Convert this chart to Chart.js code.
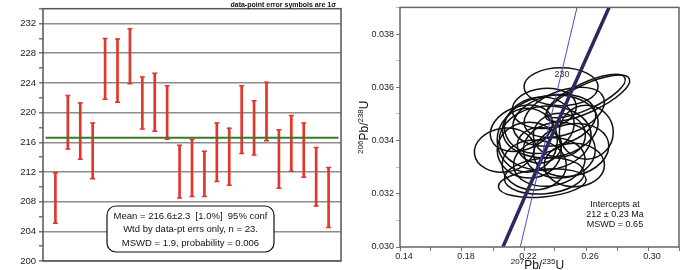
<!DOCTYPE html>
<html lang="en">
<head>
<meta charset="UTF-8">
<title>Weighted mean age and concordia</title>
<script src="https://cdn.jsdelivr.net/npm/chart.js"></script>
<style>
  body { margin: 0; background: #fff; }
  #wrap { position: relative; width: 700px; height: 270px; }
  canvas { position: absolute; top: 0; }
</style>
</head>
<body>
<div id="wrap">
  <canvas id="meanChart" width="350" height="270" style="left:0"></canvas>
  <canvas id="concChart" width="350" height="270" style="left:350px"></canvas>
</div>
<script>
// ---- weighted mean plot (ages in Ma, 1 sigma boxes)
const spotNo = [1, 2, 3, 4, 5, 6, 7, 8, 9, 10, 11, 12, 13, 14, 15, 16, 17, 18, 19, 20, 21, 22, 23];
const ageLow = [205.1, 215.1, 213.7, 211.1, 221.8, 221.4, 223.9, 217.8, 217.5, 216.4, 208.5, 208.7,
                208.7, 210.7, 210.2, 214.5, 214.3, 216.2, 209.8, 212.1, 211.3, 207.4, 204.5];
const ageHigh = [211.9, 222.3, 221.3, 218.6, 230.0, 229.9, 231.3, 224.8, 225.3, 223.6, 215.6, 216.4,
                 214.8, 218.6, 217.9, 223.6, 221.6, 224.1, 217.7, 219.6, 218.6, 215.3, 212.6];
const meanAge = 216.6;
const meanText = ['Mean = 216.6\u00b12.3  [1.0%]  95% conf', 'Wtd by data-pt errs only, n = 23.', 'MSWD = 1.9, probability = 0.006'];

// ---- concordia plot
const concX = [0.2064, 0.2214, 0.2365, 0.2518, 0.2672, 0.2749];   // 207Pb/235U
const concY = [0.030, 0.032, 0.034, 0.036, 0.038, 0.039];          // 206Pb/238U
const lineX = [0.2176, 0.2542];
const lineY = [0.030, 0.039];
const ageLabel = ['230'];
const ageLabelX = [0.2542];
const ageLabelY = [0.03632];
// error ellipses: centre, half-widths (data units), tilt (deg)
const ellX = [0.2439, 0.2610, 0.2600, 0.2073, 0.2602, 0.2370, 0.2337, 0.2331, 0.2299, 0.2234, 0.2396, 0.2428,
              0.2221, 0.2363, 0.2505, 0.2266, 0.2318, 0.2183, 0.2460, 0.2331, 0.2299, 0.2428, 0.2525];
const ellY = [0.03602, 0.03559, 0.03567, 0.03364, 0.03431, 0.03453, 0.03409, 0.03267, 0.03457, 0.03364, 0.03476, 0.03364,
              0.03401, 0.03319, 0.03364, 0.03308, 0.03240, 0.03446, 0.03506, 0.03521, 0.03382, 0.03420, 0.03308];
const ellA = [0.0239, 0.0297, 0.0277, 0.0194, 0.0174, 0.0310, 0.0297, 0.0258, 0.0226, 0.0207, 0.0271, 0.0232,
              0.0194, 0.0232, 0.0245, 0.0207, 0.0284, 0.0207, 0.0271, 0.0207, 0.0142, 0.0168, 0.0194];
const ellB = [0.00071, 0.00052, 0.00049, 0.00082, 0.00101, 0.00116, 0.00120, 0.00067, 0.00105, 0.00105, 0.00094, 0.00105,
              0.00120, 0.00090, 0.00097, 0.00094, 0.00052, 0.00082, 0.00082, 0.00075, 0.00067, 0.00082, 0.00082];
const ellTilt = [0, -25, -25, -8, 0, -8, -5, -5, -10, 0, -12, 0, 0, -8, -12, 0, -5, -20, -20, -5, 0, 0, 0];
const interceptText = ['Intercepts at', '212 \u00b1 0.23 Ma', 'MSWD = 0.65'];

const font = '"Liberation Sans", Arial, sans-serif';
const red = '#e2352b';

// frame, note and stats box for the left panel
const meanDecor = {
  id: 'meanDecor',
  afterDraw(chart) {
    const { ctx, chartArea: a } = chart;
    ctx.save();
    ctx.strokeStyle = '#555';
    ctx.lineWidth = 1.5;
    ctx.strokeRect(a.left, a.top, a.right - a.left, a.bottom - a.top);

    ctx.fillStyle = '#111';
    ctx.font = 'bold 7px ' + font;
    ctx.textAlign = 'right';
    ctx.textBaseline = 'alphabetic';
    ctx.fillText('data-point error symbols are 1\u03c3', a.right - 5, a.top - 1.5);

    ctx.beginPath();
    ctx.roundRect(107, 206, 167, 46, 9);
    ctx.fillStyle = '#fff';
    ctx.fill();
    ctx.strokeStyle = '#111';
    ctx.lineWidth = 1.2;
    ctx.stroke();
    ctx.fillStyle = '#111';
    ctx.font = '9.5px ' + font;
    ctx.textAlign = 'center';
    ctx.textBaseline = 'middle';
    meanText.forEach((t, i) => ctx.fillText(t, 190.5, 216.5 + i * 13.3));
    ctx.restore();
  }
};

new Chart(document.getElementById('meanChart'), {
  type: 'bar',
  data: {
    datasets: [
      {
        type: 'line',
        data: [{ x: 0.2, y: meanAge }, { x: 23.8, y: meanAge }],
        borderColor: '#3b7a28',
        borderWidth: 2,
        pointRadius: 0,
        order: 0
      },
      {
        type: 'bar',
        data: spotNo.map((n, i) => ({ x: n, y: [ageLow[i], ageHigh[i]] })),
        backgroundColor: red,
        barThickness: 2,
        borderWidth: 0,
        order: 2
      },
      {
        type: 'scatter',
        data: spotNo.flatMap((n, i) => [{ x: n, y: ageLow[i] }, { x: n, y: ageHigh[i] }]),
        pointStyle: 'line',
        pointRadius: 2.5,
        borderColor: red,
        borderWidth: 1.5,
        order: 1
      }
    ]
  },
  options: {
    responsive: false,
    animation: false,
    devicePixelRatio: 1,
    layout: { padding: { top: 8, right: 9, bottom: 9, left: 0 } },
    plugins: { legend: { display: false }, tooltip: { enabled: false } },
    scales: {
      x: { type: 'linear', min: 0, max: 24, offset: false, display: false },
      y: {
        min: 200,
        max: 234,
        afterFit: s => { s.width = 43; },
        border: { display: false },
        grid: {
          color: c => (c.tick && c.tick.value % 4 === 0) ? '#8c8c8c' : 'rgba(0,0,0,0)',
          lineWidth: 1.5,
          tickColor: '#777',
          tickLength: 4
        },
        ticks: {
          stepSize: 2,
          autoSkip: false,
          padding: 3,
          color: '#222',
          font: { family: font, size: 9.5 },
          callback: v => (v % 4 === 0 ? v : '')
        }
      }
    }
  },
  plugins: [meanDecor]
});

// ellipses, frame and texts for the right panel
function drawIso(ctx, parts, big, small) {
  let w = 0;
  parts.forEach(p => { ctx.font = (p[1] ? small : big) + 'px ' + font; w += ctx.measureText(p[0]).width; });
  let x = -w / 2;
  parts.forEach(p => {
    ctx.font = (p[1] ? small : big) + 'px ' + font;
    ctx.fillText(p[0], x, p[1] ? -big * 0.38 : 0);
    x += ctx.measureText(p[0]).width;
  });
}

const concDecor = {
  id: 'concDecor',
  beforeDatasetsDraw(chart) {
    const { ctx, chartArea: a, scales: { x, y } } = chart;
    ctx.save();
    ctx.beginPath();
    ctx.rect(a.left, a.top, a.right - a.left, a.bottom - a.top);
    ctx.clip();
    ctx.strokeStyle = '#111';
    ctx.lineWidth = 1.5;
    ellX.forEach((cx, i) => {
      const px = x.getPixelForValue(cx);
      const py = y.getPixelForValue(ellY[i]);
      const rx = x.getPixelForValue(cx + ellA[i]) - px;
      const ry = py - y.getPixelForValue(ellY[i] + ellB[i]);
      ctx.beginPath();
      ctx.ellipse(px, py, rx, ry, ellTilt[i] * Math.PI / 180, 0, Math.PI * 2);
      ctx.stroke();
    });
    ctx.restore();
  },
  afterDraw(chart) {
    const { ctx, chartArea: a, scales: { x, y } } = chart;
    ctx.save();
    ctx.strokeStyle = '#666';
    ctx.lineWidth = 1.5;
    ctx.strokeRect(a.left, a.top, a.right - a.left, a.bottom - a.top);

    ctx.fillStyle = '#333';
    ctx.font = '9px ' + font;
    ctx.textAlign = 'center';
    ctx.textBaseline = 'middle';
    ageLabel.forEach((t, i) => {
      ctx.fillText(t, x.getPixelForValue(ageLabelX[i]) - 15, y.getPixelForValue(ageLabelY[i]) - 4);
    });

    ctx.fillStyle = '#111';
    ctx.font = '9px ' + font;
    interceptText.forEach((t, i) => ctx.fillText(t, 265, 205 + i * 9.7));

    ctx.textAlign = 'left';
    ctx.textBaseline = 'alphabetic';
    ctx.save();
    ctx.translate((a.left + a.right) / 2 - 2, 269);
    drawIso(ctx, [['207', 1], ['Pb', 0], ['/', 0], ['235', 1], ['U', 0]], 12, 8);
    ctx.restore();
    ctx.save();
    ctx.translate(18, (a.top + a.bottom) / 2);
    ctx.rotate(-Math.PI / 2);
    drawIso(ctx, [['206', 1], ['Pb', 0], ['/', 0], ['238', 1], ['U', 0]], 12, 8);
    ctx.restore();
    ctx.restore();
  }
};

new Chart(document.getElementById('concChart'), {
  type: 'scatter',
  data: {
    datasets: [
      {
        type: 'line',
        data: lineX.map((v, i) => ({ x: v, y: lineY[i] })),
        borderColor: '#4a4ac8',
        borderWidth: 1,
        pointRadius: 0
      },
      {
        type: 'line',
        data: concX.map((v, i) => ({ x: v, y: concY[i] })),
        borderColor: '#2c2862',
        borderWidth: 3.5,
        pointRadius: 0
      }
    ]
  },
  options: {
    responsive: false,
    animation: false,
    devicePixelRatio: 1,
    layout: { padding: { top: 6, right: 21, bottom: 0, left: 0 } },
    plugins: { legend: { display: false }, tooltip: { enabled: false } },
    scales: {
      x: {
        type: 'linear',
        min: 0.14,
        max: 0.32,
        afterFit: s => { s.height = 23; },
        border: { display: false },
        grid: { drawOnChartArea: false, tickLength: 4, tickColor: '#777' },
        ticks: {
          stepSize: 0.02,
          autoSkip: false,
          maxRotation: 0,
          padding: 0,
          labelOffset: 4,
          color: '#222',
          font: { family: font, size: 9 },
          callback: v => (Math.round((v - 0.14) / 0.02) % 2 === 0 ? v.toFixed(2) : '')
        }
      },
      y: {
        min: 0.030,
        max: 0.039,
        afterFit: s => { s.width = 50; },
        border: { display: false },
        grid: {
          drawOnChartArea: false,
          tickLength: 4,
          tickColor: c => (c.tick && Math.round(c.tick.value * 1000) % 2 === 0) ? '#777' : '#bbb'
        },
        ticks: {
          stepSize: 0.001,
          autoSkip: false,
          padding: 2,
          color: '#222',
          font: { family: font, size: 9 },
          callback: v => (Math.round(v * 1000) % 2 === 0 ? v.toFixed(3) : '')
        }
      }
    }
  },
  plugins: [concDecor]
});
</script>
</body>
</html>
